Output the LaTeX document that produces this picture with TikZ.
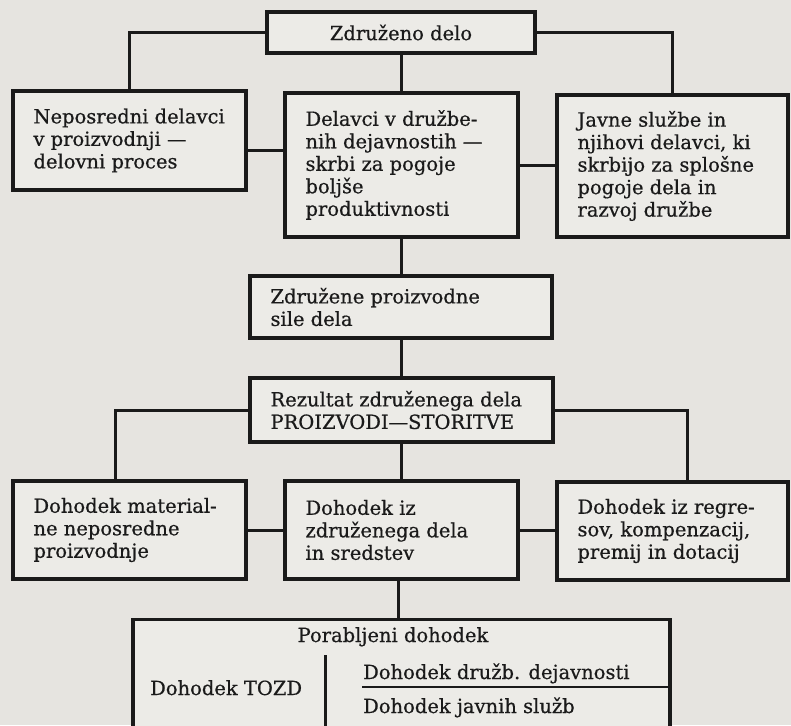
\documentclass[tikz,border=0pt]{standalone}
\usepackage{fontspec}
\setmainfont[FakeBold=0.6]{DejaVu Serif}
\definecolor{bg}{HTML}{E6E4E0}
\definecolor{boxfill}{HTML}{ECEBE7}
\definecolor{ink}{HTML}{1A1A1A}
\begin{document}
\begin{tikzpicture}[x=1pt,y=-1pt,
  bx/.style={draw=ink, line width=3.4pt, fill=boxfill, inner sep=0pt},
  tx/.style={text=ink, align=left, inner sep=0pt, font=\fontsize{19.5}{22.5}\selectfont},
  ln/.style={draw=ink, line width=3pt}]
\clip (0,0) rectangle (791,725);
\fill[bg] (0,0) rectangle (791,725);
% boxes
\node[bx, minimum width=268pt, minimum height=41pt] (zd) at (401,32.5) {};
\node[bx, minimum width=233pt, minimum height=99pt] (nep) at (129.5,140.5) {};
\node[bx, minimum width=233pt, minimum height=144pt] (del) at (401.5,165) {};
\node[bx, minimum width=231pt, minimum height=142pt] (jav) at (672.5,166) {};
\node[bx, minimum width=302pt, minimum height=62pt] (zp) at (401,307) {};
\node[bx, minimum width=303pt, minimum height=64pt] (rez) at (401.5,410) {};
\node[bx, minimum width=233pt, minimum height=98pt] (mat) at (129.5,530) {};
\node[bx, minimum width=233pt, minimum height=98pt] (zs) at (401.5,530) {};
\node[bx, minimum width=231pt, minimum height=98pt] (reg) at (672.5,531) {};
\node[bx, minimum width=537pt, minimum height=150pt, anchor=north] (por) at (401.5,618) {};
% texts
\node[tx, anchor=center] (zdt) at (zd.center) {Združeno delo};
\node[tx, anchor=west] (nept) at ([xshift=22pt]nep.west) {Neposredni delavci\\v proizvodnji ---\\delovni proces};
\node[tx, anchor=west] (delt) at ([xshift=22pt]del.west) {Delavci v družbe-\\nih dejavnostih ---\\skrbi za pogoje\\boljše\\produktivnosti};
\node[tx, anchor=west] (javt) at ([xshift=22pt]jav.west) {Javne službe in\\njihovi delavci, ki\\skrbijo za splošne\\pogoje dela in\\razvoj družbe};
\node[tx, anchor=west] (zpt) at ([xshift=22pt]zp.west) {Združene proizvodne\\sile dela};
\node[tx, anchor=west] (rezt) at ([xshift=22pt]rez.west) {Rezultat združenega dela\\PROIZVODI---STORITVE};
\node[tx, anchor=west] (matt) at ([xshift=22pt]mat.west) {Dohodek material-\\ne neposredne\\proizvodnje};
\node[tx, anchor=west] (zst) at ([xshift=22pt]zs.west) {Dohodek iz\\združenega dela\\in sredstev};
\node[tx, anchor=west] (regt) at ([xshift=22pt]reg.west) {Dohodek iz regre-\\sov, kompenzacij,\\premij in dotacij};
\node[tx, anchor=base] (port) at (393,642) {Porabljeni dohodek};
\node[tx, anchor=base west] (tozd) at (150,695) {Dohodek TOZD};
\node[tx, anchor=base west] (dd) at (363,679) {Dohodek družb. dejavnosti};
\node[tx, anchor=base west] (js) at (363,713) {Dohodek javnih služb};
% connectors
\draw[ln] (zd.west) -| (nep.north);
\draw[ln] (zd.east) -| (jav.north);
\draw[ln] (zd.south) -- (zd.south |- del.north);
\draw[ln] ([yshift=-9.5pt]nep.east) coordinate (c1) -- (c1 -| del.west);
\draw[ln] (del.east) -- (del.east -| jav.west);
\draw[ln] (del.south) -- (del.south |- zp.north);
\draw[ln] (zp.south) -- (zp.south |- rez.north);
\draw[ln] (rez.west) -| ([xshift=-14.5pt]mat.north);
\draw[ln] (rez.east) -| ([xshift=14.5pt]reg.north);
\draw[ln] (rez.south) -- (rez.south |- zs.north);
\draw[ln] (mat.east) -- (mat.east -| zs.west);
\draw[ln] (zs.east) -- (zs.east -| reg.west);
\draw[ln] ([xshift=-3.5pt]zs.south) coordinate (c2) -- (c2 |- por.north);
% inside the bottom box
\coordinate (dv) at (325,655);
\draw[ln] (dv) -- (dv |- por.south);
\coordinate (hl) at (362,687);
\draw[ln, line width=2.6pt] (hl) -- (hl -| por.east);
\end{tikzpicture}
\end{document}
